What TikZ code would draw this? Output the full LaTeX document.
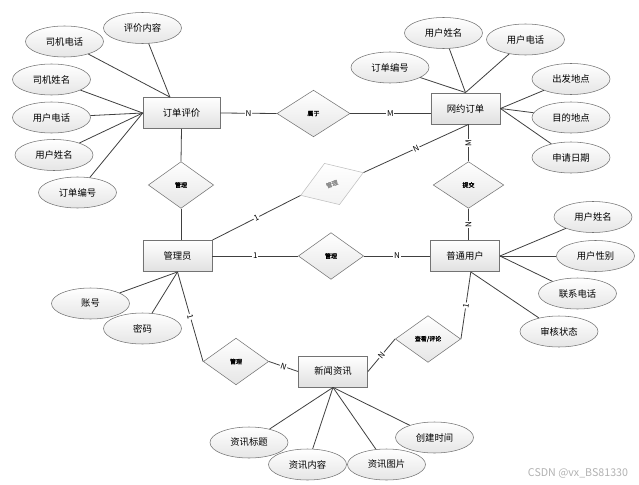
\documentclass[tikz,border=0pt]{standalone}
\usepackage{fontspec}
\setmainfont{Noto Sans CJK SC}
\newfontfamily\boldcjk[FakeBold=1.5]{Noto Sans CJK SC}
\usetikzlibrary{shapes.geometric}
\tikzstyle{entity} = [
  draw=black!55,
  rectangle,
  top color=white,
  bottom color=black!12,
  minimum width=52pt,
  minimum height=23.5pt,
  inner sep=0pt,
  font=\fontsize{7}{8}\selectfont,
]
\tikzstyle{attrib} = [
  draw=black!55,
  ellipse,
  top color=white,
  bottom color=black!10,
  minimum width=58.5pt,
  minimum height=23.25pt,
  inner sep=0pt,
  font=\fontsize{7}{8}\selectfont,
]
\tikzstyle{relation} = [
  draw=black!55,
  diamond,
  top color=white,
  bottom color=black!10,
  minimum width=49pt,
  minimum height=35pt,
  inner sep=0pt,
  font=\boldcjk\fontsize{4.5}{5}\selectfont,
]
\tikzstyle{card} = [
  fill=white,
  inner sep=0.6pt,
  sloped,
  font=\fontsize{6}{6}\selectfont,
]

\begin{document}
\begin{tikzpicture}[
    x=0.75pt,
    y=-0.75pt,
    every edge/.append style={draw=black!75, line width=0.6pt},
  ]
  \fill[white] (0,0) rectangle (639,485);
  % entities
  \node[entity, minimum width=57.75pt] (rating) at (181.5,113) {订单评价};
  \node[entity] (order) at (465.5,108.5) {网约订单};
  \node[entity] (admin) at (177.5,256) {管理员};
  \node[entity] (user) at (465,256) {普通用户};
  \node[entity] (news) at (333,371.5) {新闻资讯};
  % relations
  \node[relation, minimum width=54.75pt] (belong) at (313.5,113.5) {属于};
  \node[relation] (manage1) at (181,185) {管理};
  \node[relation] (manage2) at (331,256) {管理};
  \node[relation, minimum width=53pt] (submit) at (468.5,185) {提交};
  \node[relation] (manage3) at (236,361.5) {管理};
  \node[relation] (view) at (428,339) {查看/评论};
  \node[
    relation,
    draw=black!25,
    bottom color=black!5,
    text=black!45,
    minimum width=50pt,
    minimum height=33pt,
    rotate=20,
  ] (manage4) at (332,184) {管理};
  % attributes of rating
  \node[attrib] (ratingtext) at (142.5,28) {评价内容};
  \node[attrib] (driverphone) at (64.5,41.5) {司机电话};
  \node[attrib] (drivername) at (51.5,79.5) {司机姓名};
  \node[attrib] (ratingphone) at (51.5,117.5) {用户电话};
  \node[attrib] (ratingname) at (54,155) {用户姓名};
  \node[attrib] (ratingno) at (77.5,192.5) {订单编号};
  % attributes of order
  \node[attrib] (ordername) at (443.5,33) {用户姓名};
  \node[attrib] (orderphone) at (525.5,39.5) {用户电话};
  \node[attrib] (orderno) at (390,67.5) {订单编号};
  \node[attrib] (orderfrom) at (571,79) {出发地点};
  \node[attrib] (orderto) at (571,117.5) {目的地点};
  \node[attrib] (orderdate) at (571,157.5) {申请日期};
  % attributes of user
  \node[attrib] (username) at (593,217) {用户姓名};
  \node[attrib] (usersex) at (595.5,256) {用户性别};
  \node[attrib] (userphone) at (577.5,293.5) {联系电话};
  \node[attrib] (userstate) at (559,331.5) {审核状态};
  % attributes of admin
  \node[attrib] (account) at (90.5,303.5) {账号};
  \node[attrib] (password) at (142.5,328.5) {密码};
  % attributes of news
  \node[attrib] (newstitle) at (249,442.5) {资讯标题};
  \node[attrib] (newstext) at (307.5,464.5) {资讯内容};
  \node[attrib] (newspic) at (386.5,464.5) {资讯图片};
  \node[attrib] (newstime) at (434.5,437.5) {创建时间};
  \node[
    font=\fontsize{8}{9}\selectfont,
    text=black!30,
  ] (mark) at (578,473) {CSDN @vx\_BS81330};
  % attribute links
  \path (ratingtext) edge (rating.126);
  \path (driverphone) edge (rating.126);
  \path (drivername) edge (rating.west);
  \path (ratingphone) edge (rating.west);
  \path (ratingname) edge (rating.west);
  \path (ratingno) edge (rating.west);
  \path (ordername) edge (order.north);
  \path (orderphone) edge (order.north);
  \path (orderno) edge (order.north);
  \path (orderfrom) edge (order.east);
  \path (orderto) edge (order.east);
  \path (orderdate) edge (order.east);
  \path (username) edge (user.east);
  \path (usersex) edge (user.east);
  \path (userphone) edge (user.east);
  \path (userstate) edge (user.-70);
  \path (account) edge (admin.south);
  \path (password) edge (admin.south);
  \path (newstitle) edge (news.south);
  \path (newstext) edge (news.south);
  \path (newspic) edge (news.south);
  \path (newstime) edge (news.south);
  % relation links
  \path (rating.east) edge node[card] {N} (belong.west);
  \path (belong.east) edge node[card] {M} (belong -| order.west);
  \path (rating.south) edge (manage1.north);
  \path (manage1.south) edge (manage1 |- admin.north);
  \path (admin.east) edge node[card] {1} (manage2.west);
  \path (manage2.east) edge node[card] {N} (user.west);
  \path (submit.north) edge node[card] {M} (submit |- order.south);
  \path (submit |- user.north) edge node[card] {N} (submit.south);
  \path (admin.north east) edge node[card] {1} (manage4.west);
  \path (manage4.east) edge node[card] {N} (submit |- order.south);
  \path (admin.south) edge node[card] {1} (manage3.west);
  \path (manage3.east) edge node[card] {N} (news.west);
  \path (news.east) edge node[card] {N} (view.west);
  \path (view.east) edge node[card] {1} (user.-70);
\end{tikzpicture}
\end{document}
